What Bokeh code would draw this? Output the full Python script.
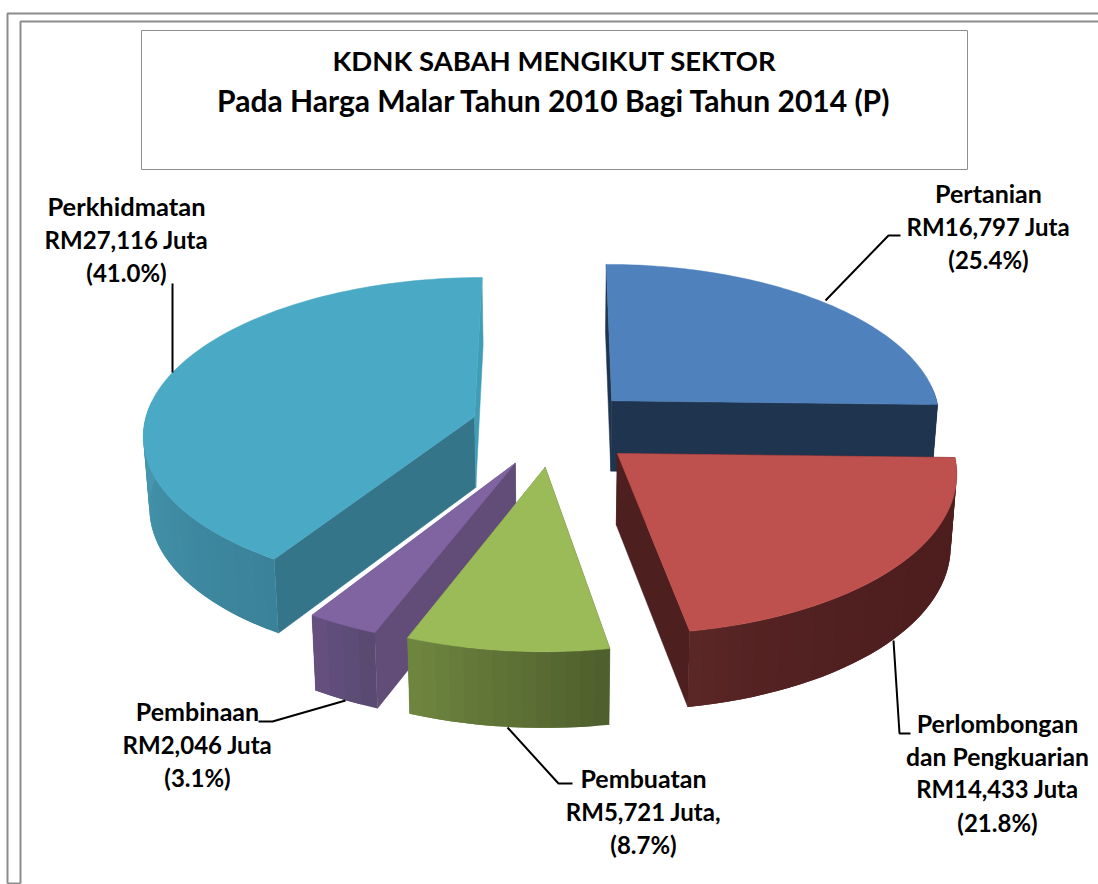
import numpy as np
from bokeh.plotting import figure
from bokeh.models import Range1d, ColumnDataSource
from bokeh.core.properties import value
from bokeh.embed import file_html
from bokeh.resources import INLINE

# ---- data ----
sectors = ["Pertanian", "Perlombongan dan Pengkuarian", "Pembuatan", "Pembinaan", "Perkhidmatan"]
values = [16797, 14433, 5721, 2046, 27116]
title_lines = ["KDNK SABAH MENGIKUT SEKTOR", "Pada Harga Malar Tahun 2010 Bagi Tahun 2014 (P)"]
label_lines = [
    ["Pertanian", "RM16,797 Juta", "(25.4%)"],
    ["Perlombongan", "dan Pengkuarian", "RM14,433 Juta", "(21.8%)"],
    ["Pembuatan", "RM5,721 Juta,", "(8.7%)"],
    ["Pembinaan", "RM2,046 Juta", "(3.1%)"],
    ["Perkhidmatan", "RM27,116 Juta", "(41.0%)"],
]
# ---- style ----
title_sizes = ["27.5px", "30px"]
label_sizes = [
    ["25px", "24px", "24px"],
    ["25px", "24.7px", "23.8px", "24px"],
    ["25px", "24px", "24px"],
    ["25px", "24px", "24px"],
    ["25.5px", "24px", "24px"],
]
top_colors = ["#4F81BD", "#BE504D", "#9BBB59", "#8064A2", "#4AA9C4"]
wall_a = ["#1F344F", "#4E1E1E", "#4F5F2D", "#5A4A72", "#4698B0"]
wall_b = ["#1F344F", "#5A2626", "#6E853F", "#644F7F", "#3A8299"]
wall_curve = [1, 4, 1, 1, 1]
face_start = ["#1F344F", "#4E1F1F", "#4F5F2D", "#624C78", "#34758A"]
face_end = ["#1F344F", "#4E1F1F", "#6E853F", "#624C78", "#3F9DB6"]
draw_order = [0, 4, 1, 3, 2]
label_pos = [(988, 192.5), (997, 722.5), (643, 777.5), (197, 710.5), (126, 205.5)]
label_step = 33
leaders = [
    ([825, 888, 900], [300, 235, 235]),
    ([893, 899, 910], [640, 733, 733]),
    ([507, 558, 572], [727, 783, 783]),
    ([345, 272, 258], [700, 721, 721]),
    ([172, 172], [372, 283]),
]
CX, CY, RX, RY, K, EXPL, DEPTH = 553, 427, 331, 156, 0.105, 0.25, 71

def project(u, v, low=False):
    w = 1 + K * v
    x = CX + RX * u / w
    y = CY - RY * v / w
    if low:
        x = CX + (x - CX) * 0.985
        y = y + DEPTH / np.sqrt(w)
    return x, y

p = figure(width=1098, height=884, output_backend="svg", toolbar_location=None,
           x_range=Range1d(0, 1098), y_range=Range1d(884, 0),
           min_border=0, outline_line_color=None, background_fill_color="white")
p.axis.visible = False
p.grid.visible = False

# frames
for (x0, y0) in [(7, 13), (20, 21)]:
    p.line([x0, x0, 1098], [883, y0, y0], line_color="#8C8C8C", line_width=2)
p.line([7, 20], [883, 883], line_color="#8C8C8C", line_width=2)
# title box
p.line([141, 967, 967, 141, 141], [30, 30, 169, 169, 30], line_color="#8E8E8E", line_width=1)

fr = np.array(values, float) / sum(values)
ends = np.cumsum(fr) * 2 * np.pi
starts = ends - fr * 2 * np.pi
for i in draw_order:
    a0, a1 = starts[i], ends[i]
    mid = (a0 + a1) / 2
    ou, ov = EXPL * np.sin(mid), EXPL * np.cos(mid)
    th = np.linspace(a0, a1, 90)
    u, v = ou + np.sin(th), ov + np.cos(th)
    # radial faces
    for ang, col in ((a0, face_start[i]), (a1, face_end[i])):
        eu, ev = ou + np.sin(ang), ov + np.cos(ang)
        xa, ya = project(ou, ov)
        xb, yb = project(eu, ev)
        xc, yc = project(eu, ev, True)
        xd, yd = project(ou, ov, True)
        p.patch([xa, xb, xc, xd], [ya, yb, yc, yd], fill_color=col, line_color=col, line_width=0.5)
    # outer wall: overlapping strips, front-facing part only
    front_lo = max(a0, np.pi / 2 - 0.1)
    front_hi = min(a1, 1.5 * np.pi + 0.1)
    if front_hi > front_lo:
        wt = np.linspace(front_lo, front_hi, max(4, int((front_hi - front_lo) * 28)))
        wu, wv = ou + np.sin(wt), ov + np.cos(wt)
        ca = np.array([int(wall_a[i][j:j + 2], 16) for j in (1, 3, 5)], float)
        cb = np.array([int(wall_b[i][j:j + 2], 16) for j in (1, 3, 5)], float)
        xs, ys, cs = [], [], []
        for j in range(len(wt) - 1):
            k2 = min(j + 2, len(wt) - 1)
            x1, y1 = project(wu[j], wv[j])
            x2, y2 = project(wu[k2], wv[k2])
            x3, y3 = project(wu[k2], wv[k2], True)
            x4, y4 = project(wu[j], wv[j], True)
            mx, my = project(wu[j + 1], wv[j + 1])
            mx3, my3 = project(wu[j + 1], wv[j + 1], True)
            xs.append([x1, mx, x2, x3, mx3, x4])
            ys.append([y1, my, y2, y3, my3, y4])
            t = j / max(1, len(wt) - 2)
            if i == 4:
                t = 1 - t
            t = t ** wall_curve[i]
            c = ca + (cb - ca) * t
            cs.append("#%02X%02X%02X" % tuple(int(round(q)) for q in c))
        p.patches(xs, ys, fill_color=cs, line_color=None)
    # top
    tx, ty = project(np.r_[ou, u], np.r_[ov, v])
    p.patch(list(tx), list(ty), fill_color=top_colors[i], line_color=top_colors[i], line_width=0.5)

# leaders
for lx, ly in leaders:
    p.line(lx, ly, line_color="black", line_width=2)

# texts
font = value("Lato")
p.text(x="x", y="y", text="t", text_font_size="s",
       source=ColumnDataSource(dict(x=[554, 554], y=[60, 99], t=title_lines, s=title_sizes)),
       text_font=font, text_font_style="bold",
       text_align="center", text_baseline="middle", text_color="black")
tx, ty, tt, ts = [], [], [], []
for (cx, cy), lines, sizes in zip(label_pos, label_lines, label_sizes):
    for n, (line, size) in enumerate(zip(lines, sizes)):
        tx.append(cx); ty.append(cy + n * label_step); tt.append(line); ts.append(size)
p.text(x="x", y="y", text="t", text_font_size="s",
       source=ColumnDataSource(dict(x=tx, y=ty, t=tt, s=ts)), text_font=font,
       text_font_style="bold", text_align="center", text_baseline="middle",
       text_color="black")

open("out.html", "w").write(file_html(p, INLINE))
